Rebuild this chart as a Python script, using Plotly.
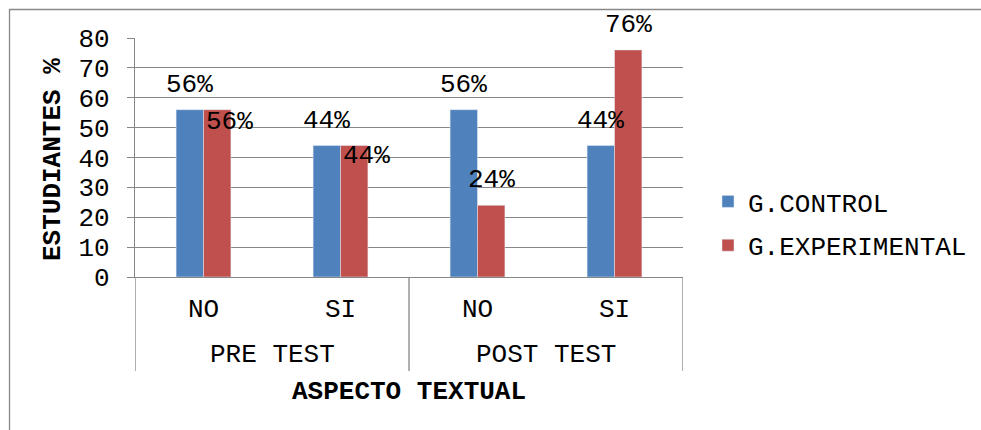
import plotly.graph_objects as go

# ---- data ----
categories = ["NO", "SI", "NO", "SI"]
groups = ["PRE TEST", "POST TEST"]
control = [56, 44, 56, 44]
experimental = [56, 44, 24, 76]
series_names = ["G.CONTROL", "G.EXPERIMENTAL"]

# ---- style ----
W, H = 981, 430
ML, MR, MT, MB = 135, 298, 38, 153
PW, PH = W - ML - MR, H - MT - MB
FONT = "Liberation Mono"
BLUE, RED = "#4F81BD", "#C0504D"
GRID = "#868686"
FS = 26

def px_x(px):
    return (px - ML) / PW

def px_y(py):
    return (H - MB - py) / PH

x_idx = list(range(len(categories)))
fig = go.Figure()
fig.add_trace(go.Bar(x=x_idx, y=control, name=series_names[0], marker_color=BLUE,
                     legendgroup="a"))
fig.add_trace(go.Bar(x=x_idx, y=experimental, name=series_names[1], marker_color=RED,
                     legendgroup="b"))

annotations = []
txt = dict(family=FONT, size=FS, color="#000")
# data labels (label offsets are styling)
off = 0.1
ctrl_shift = [(0, 25)] * 4
exp_shift = [(12, -12), (12, -10), (0, 25), (0, 25)]
for i, v in enumerate(control):
    annotations.append(dict(x=i - off, y=v, xref="x", yref="y", text=f"{v}%",
                            showarrow=False, xanchor="center", yanchor="middle",
                            xshift=ctrl_shift[i][0], yshift=ctrl_shift[i][1], font=txt))
for i, v in enumerate(experimental):
    annotations.append(dict(x=i + off, y=v, xref="x", yref="y", text=f"{v}%",
                            showarrow=False, xanchor="center", yanchor="middle",
                            xshift=exp_shift[i][0], yshift=exp_shift[i][1], font=txt))
# group labels
n_per = len(categories) // len(groups)
for g, name in enumerate(groups):
    annotations.append(dict(x=g * n_per + (n_per - 1) / 2, y=px_y(355), xref="x", yref="paper",
                            text=name, showarrow=False, xanchor="center", yanchor="middle",
                            font=txt))
# axis titles
annotations.append(dict(x=0.5, y=px_y(392), xref="paper", yref="paper",
                        text="<b>ASPECTO TEXTUAL</b>", showarrow=False,
                        xanchor="center", yanchor="middle", font=txt))
annotations.append(dict(x=px_x(53), y=px_y(160), xref="paper", yref="paper",
                        text="<b>ESTUDIANTES %</b>", showarrow=False, textangle=-90,
                        xanchor="center", yanchor="middle", font=txt))

shapes = []
# group separators
for g in range(len(groups) + 1):
    shapes.append(dict(type="line", xref="x", yref="paper", x0=g * n_per - 0.5, x1=g * n_per - 0.5,
                       y0=0, y1=px_y(371), line=dict(color=GRID, width=1.3)))
# outer chart border
shapes.append(dict(type="rect", xref="paper", yref="paper", x0=px_x(9.5), x1=px_x(W + 20),
                   y0=px_y(H + 20), y1=px_y(9.5), line=dict(color="#878787", width=1.3)))

fig.update_layout(
    width=W, height=H,
    margin=dict(l=ML, r=MR, t=MT, b=MB, autoexpand=False),
    paper_bgcolor="white", plot_bgcolor="white",
    barmode="group", bargap=0.6, bargroupgap=0,
    font=txt,
    showlegend=True,
    legend=dict(x=px_x(708), y=px_y(223.5), xanchor="left", yanchor="middle",
                font=txt, tracegroupgap=7, bgcolor="rgba(0,0,0,0)"),
    annotations=annotations, shapes=shapes,
    xaxis=dict(range=[-0.5, len(categories) - 0.5], tickvals=x_idx, ticktext=categories,
               showgrid=False, showline=True, linecolor=GRID, linewidth=1.3,
               ticks="", ticklabelstandoff=8, zeroline=False, fixedrange=True),
    yaxis=dict(range=[0, 80], dtick=10, showgrid=True, gridcolor=GRID, gridwidth=1.3,
               showline=True, linecolor=GRID, linewidth=1.3, ticks="outside", ticklen=7,
               tickcolor=GRID, tickwidth=1.3, ticklabelstandoff=12, zeroline=False,
               fixedrange=True),
)
fig.write_html("out.html", config={"displayModeBar": False},
               post_script="document.body.style.margin='0';document.body.style.overflow='hidden';")
